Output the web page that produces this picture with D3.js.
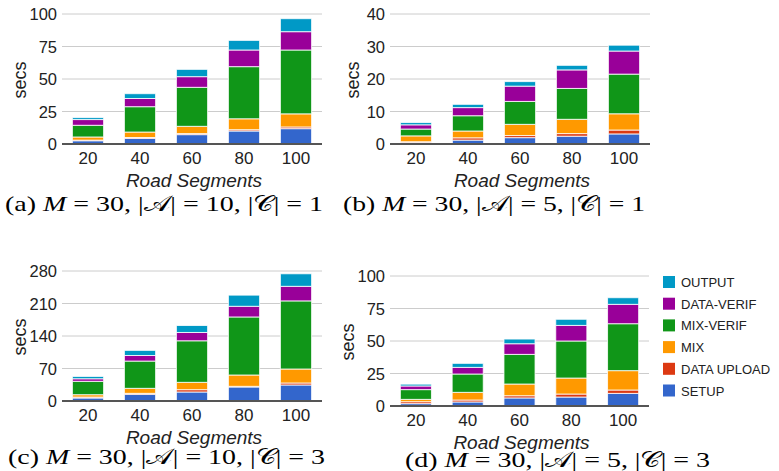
<!DOCTYPE html>
<html>
<head>
<meta charset="utf-8">
<script src="https://cdn.jsdelivr.net/npm/d3@7"></script>
<style>
  body { margin: 0; background: #fff; }
  svg { display: block; }
</style>
</head>
<body>
<div id="chart"></div>
<script>
// road segment counts (x categories)
var segments = ["20", "40", "60", "80", "100"];
var seriesNames = ["SETUP", "DATA UPLOAD", "MIX", "MIX-VERIF", "DATA-VERIF", "OUTPUT"];
var colors = ["#3366cc", "#dc3912", "#ff9900", "#109618", "#990099", "#0099c6"];

// (a) M=30, |A|=10, |C|=1  -- secs per stage
var setupA     = [2.5, 4.3, 7.2, 10.0, 11.8];
var uploadA    = [0.5, 0.7, 0.8, 1.0, 1.3];
var mixA       = [2.4, 4.2, 5.6, 8.4, 10.1];
var mixVerifA  = [9.0, 19.5, 30.0, 40.1, 49.1];
var dataVerifA = [4.4, 6.3, 8.2, 12.8, 14.1];
var outputA    = [1.5, 3.7, 5.6, 7.4, 10.0];
var ticksA     = [0, 25, 50, 75, 100];

// (b) M=30, |A|=5, |C|=1
var setupB     = [0.5, 1.2, 1.95, 2.4, 3.1];
var uploadB    = [0.2, 0.7, 0.65, 0.8, 1.2];
var mixB       = [1.8, 2.1, 3.45, 4.4, 5.0];
var mixVerifB  = [2.1, 4.7, 7.05, 9.5, 12.2];
var dataVerifB = [1.3, 2.5, 4.7, 5.7, 7.1];
var outputB    = [0.7, 1.0, 1.4, 1.4, 1.8];
var ticksB     = [0, 10, 20, 30, 40];

// (c) M=30, |A|=10, |C|=3
var setupC     = [6.5, 14.4, 19.4, 30.2, 34.5];
var uploadC    = [2.0, 2.1, 5.0, 1.4, 4.3];
var mixC       = [5.1, 10.8, 15.8, 24.4, 30.1];
var mixVerifC  = [28.8, 58.7, 89.5, 125, 146.7];
var dataVerifC = [5.5, 12, 17.9, 23, 31.4];
var outputC    = [5.0, 11, 15, 24, 27];
var ticksC     = [0, 70, 140, 210, 280];

// (d) M=30, |A|=5, |C|=3
var setupD     = [1.8, 3.1, 6.2, 6.9, 9.7];
var uploadD    = [1.5, 1.5, 1.7, 2.3, 2.6];
var mixD       = [1.8, 5.9, 9.0, 12.3, 14.9];
var mixVerifD  = [7.5, 14.1, 22.8, 28.5, 36.1];
var dataVerifD = [2.8, 5.1, 8.2, 12.0, 14.9];
var outputD    = [1.4, 3.1, 3.6, 4.7, 5.1];
var ticksD     = [0, 25, 50, 75, 100];

var W = 779, H = 471;
var svg = d3.select("#chart").append("svg")
    .attr("width", W)
    .attr("height", H);

var sans = "Liberation Sans, Arial, sans-serif";
var serif = "Liberation Serif, Times New Roman, serif";

function drawPanel(p){
	var rows = segments.map(function(s, i){
		var r = {seg: s};
		p.series.forEach(function(arr, k){ r[seriesNames[k]] = arr[i]; });
		return r;
	});
	var stacked = d3.stack().keys(seriesNames)(rows);

	var x = d3.scaleBand().domain(segments).range([p.left, p.right])
		.paddingInner(0.4).paddingOuter(0.2);
	var y = d3.scaleLinear().domain([0, p.ticks[p.ticks.length-1]]).range([p.bottom, p.top]);

	var g = svg.append("g");

	// grid
	g.selectAll(".grid").data(p.ticks.slice(1))
		.enter().append("line")
		.attr("x1", p.left).attr("x2", p.right)
		.attr("y1", function(d){ return y(d); })
		.attr("y2", function(d){ return y(d); })
		.attr("stroke", "#cccccc")
		.attr("stroke-width", 1);

	// y labels
	g.selectAll(".ylab").data(p.ticks)
		.enter().append("text")
		.attr("x", p.left - 5)
		.attr("y", function(d){ return y(d) + 6; })
		.attr("text-anchor", "end")
		.attr("font-family", sans)
		.attr("font-size", "16.5px")
		.attr("fill", "#222")
		.text(function(d){ return d; });

	// bars
	g.selectAll(".layer").data(stacked)
		.enter().append("g")
		.attr("fill", function(d, i){ return colors[i]; })
		.selectAll("rect")
		.data(function(d){ return d; })
		.enter().append("rect")
		.attr("x", function(d){ return x(d.data.seg); })
		.attr("width", x.bandwidth())
		.attr("y", function(d){ return y(d[1]); })
		.attr("height", function(d){ return y(d[0]) - y(d[1]); })
		.attr("stroke", "#ffffff")
		.attr("stroke-opacity", 0.8)
		.attr("stroke-width", 1);

	// baseline
	g.append("line")
		.attr("x1", p.left).attr("x2", p.right)
		.attr("y1", y(0)).attr("y2", y(0))
		.attr("stroke", "#555")
		.attr("stroke-width", 2);

	// x labels
	g.selectAll(".xlab").data(segments)
		.enter().append("text")
		.attr("x", function(d){ return x(d) + x.bandwidth()/2; })
		.attr("y", p.bottom + 20)
		.attr("text-anchor", "middle")
		.attr("font-family", sans)
		.attr("font-size", "17px")
		.attr("fill", "#222")
		.text(function(d){ return d; });

	g.append("text")
		.attr("x", (p.left + p.right)/2 + 2)
		.attr("y", p.bottom + 43)
		.attr("text-anchor", "middle")
		.attr("font-family", sans)
		.attr("font-style", "italic")
		.attr("font-size", "19px")
		.attr("fill", "#222")
		.text("Road Segments");

	g.append("text")
		.attr("transform", "translate(" + p.secsX + "," + ((p.top + p.bottom)/2 + 1) + ") rotate(-90)")
		.attr("text-anchor", "middle")
		.attr("dy", "0.35em")
		.attr("font-family", sans)
		.attr("font-size", "18px")
		.attr("fill", "#222")
		.text("secs");

	// caption
	var cap = g.append("text")
		.attr("x", p.capX)
		.attr("y", p.capY)
		.attr("font-family", serif)
		.attr("font-size", "22px")
		.attr("textLength", p.capW)
		.attr("lengthAdjust", "spacingAndGlyphs")
		.attr("fill", "#000");
	cap.append("tspan").text("(" + p.tag + ") ");
	cap.append("tspan").attr("font-style", "italic").text("M");
	cap.append("tspan").text(" = 30, |");
	cap.append("tspan").text("\uD835\uDC9C");
	cap.append("tspan").text("| = " + p.A + ", |");
	cap.append("tspan").text("\uD835\uDC9E");
	cap.append("tspan").text("| = " + p.C);
}

drawPanel({tag:"a", A:10, C:1, left:62, right:322, top:14, bottom:144, ticks:ticksA,
	series:[setupA, uploadA, mixA, mixVerifA, dataVerifA, outputA], secsX:20, capX:5, capY:211, capW:318});
drawPanel({tag:"b", A:5, C:1, left:390, right:650, top:14, bottom:144, ticks:ticksB,
	series:[setupB, uploadB, mixB, mixVerifB, dataVerifB, outputB], secsX:353, capX:343, capY:211, capW:302});
drawPanel({tag:"c", A:10, C:3, left:62, right:322, top:271, bottom:401, ticks:ticksC,
	series:[setupC, uploadC, mixC, mixVerifC, dataVerifC, outputC], secsX:20, capX:8, capY:464, capW:317});
drawPanel({tag:"d", A:5, C:3, left:390, right:649, top:276, bottom:406, ticks:ticksD,
	series:[setupD, uploadD, mixD, mixVerifD, dataVerifD, outputD], secsX:348, capX:405, capY:467, capW:305});

// legend
var legendOrder = seriesNames.slice().reverse();
var legend = svg.append("g").attr("transform", "translate(663,276)");
var li = legend.selectAll(".li").data(legendOrder)
	.enter().append("g")
	.attr("transform", function(d, i){ return "translate(0," + (i*21.7) + ")"; });
li.append("rect")
	.attr("width", 12).attr("height", 12)
	.attr("fill", function(d){ return colors[seriesNames.indexOf(d)]; });
li.append("text")
	.attr("x", 18).attr("y", 11)
	.attr("font-family", sans)
	.attr("font-size", "13px")
	.attr("fill", "#222")
	.text(function(d){ return d; });
</script>
</body>
</html>
